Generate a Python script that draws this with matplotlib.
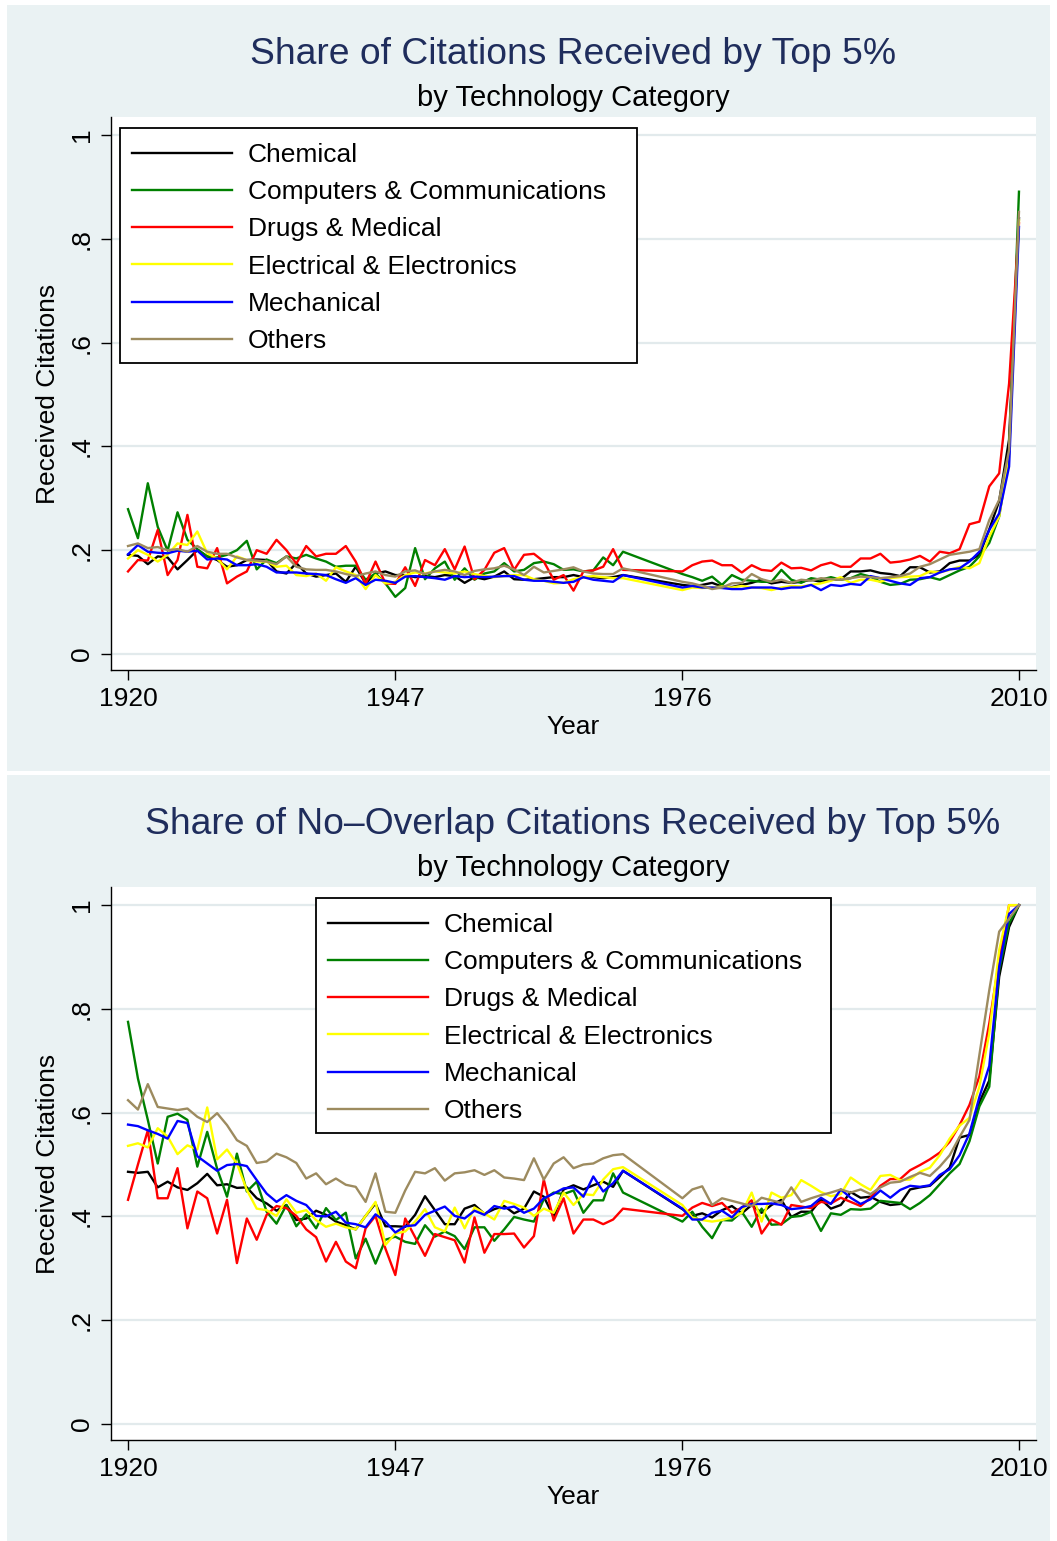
import matplotlib.pyplot as plt
from matplotlib.patches import Rectangle

plt.rcParams['font.family'] = ['Liberation Sans', 'DejaVu Sans']

# years with data (no observations 1971-1975)
years = list(range(1920, 1971)) + list(range(1976, 2011))

categories = ["Chemical", "Computers & Communications", "Drugs & Medical",
              "Electrical & Electronics", "Mechanical", "Others"]
colors = ["black", "#008000", "#ff0000", "#ffff00", "#0000ff", "#9d8b5f"]

# ---- share of citations received by top 5% ----
cit_chemical = [
    0.191, 0.189, 0.173, 0.188, 0.186, 0.163, 0.181, 0.200, 0.188, 0.181, 0.168, 0.171, 0.181, 0.182, 0.181, 0.159,
    0.155, 0.175, 0.155, 0.149, 0.152, 0.155, 0.139, 0.168, 0.136, 0.155, 0.159, 0.152, 0.152, 0.148, 0.150,
    0.148, 0.152, 0.150, 0.137, 0.148, 0.144, 0.149, 0.159, 0.144, 0.143, 0.144, 0.146, 0.148, 0.148, 0.152, 0.148,
    0.148, 0.146, 0.148, 0.152,
    0.133, 0.131,
    0.133, 0.137, 0.130, 0.129, 0.133, 0.137, 0.143, 0.136, 0.139, 0.137, 0.139, 0.143, 0.139, 0.143, 0.144, 0.159,
    0.159, 0.161, 0.156, 0.154, 0.150, 0.167, 0.167, 0.157, 0.159, 0.175, 0.180, 0.180, 0.191,
    0.240, 0.295, 0.413, 0.840]
cit_computers = [
    0.279, 0.223, 0.329, 0.245, 0.199, 0.273, 0.220, 0.202, 0.188, 0.186, 0.191, 0.200, 0.218, 0.163, 0.182, 0.175,
    0.188, 0.184, 0.191, 0.184, 0.178, 0.168, 0.170, 0.170, 0.143, 0.155, 0.136, 0.110, 0.127, 0.204, 0.144,
    0.165, 0.178, 0.143, 0.165, 0.143, 0.155, 0.159, 0.175, 0.159, 0.162, 0.175, 0.178, 0.173, 0.162, 0.163, 0.159,
    0.161, 0.186, 0.171, 0.197,
    0.154, 0.148,
    0.141, 0.149, 0.133, 0.152, 0.143, 0.141, 0.139, 0.139, 0.162, 0.143, 0.137, 0.146, 0.143, 0.148, 0.143, 0.146,
    0.154, 0.149, 0.139, 0.133, 0.135, 0.143, 0.144, 0.148, 0.143, 0.152, 0.161, 0.168, 0.188,
    0.214, 0.265, 0.386, 0.891]
cit_drugs = [
    0.159, 0.181, 0.180, 0.239, 0.152, 0.181, 0.268, 0.168, 0.165, 0.204, 0.136, 0.149, 0.159, 0.200, 0.193, 0.220,
    0.200, 0.174, 0.208, 0.188, 0.193, 0.193, 0.208, 0.178, 0.135, 0.178, 0.136, 0.135, 0.167, 0.131, 0.181,
    0.171, 0.202, 0.163, 0.207, 0.144, 0.162, 0.195, 0.204, 0.162, 0.191, 0.193, 0.178, 0.143, 0.152, 0.122, 0.159,
    0.161, 0.168, 0.202, 0.162,
    0.159, 0.171,
    0.178, 0.180, 0.171, 0.171, 0.157, 0.171, 0.162, 0.160, 0.176, 0.165, 0.166, 0.161, 0.171, 0.176, 0.168, 0.168,
    0.184, 0.184, 0.193, 0.176, 0.178, 0.182, 0.189, 0.178, 0.197, 0.194, 0.202, 0.250, 0.255,
    0.323, 0.348, 0.521, 0.830]
cit_electrical = [
    0.184, 0.200, 0.191, 0.178, 0.191, 0.213, 0.210, 0.236, 0.194, 0.184, 0.163, 0.188, 0.181, 0.178, 0.178, 0.168,
    0.170, 0.152, 0.150, 0.155, 0.141, 0.167, 0.159, 0.152, 0.125, 0.152, 0.136, 0.139, 0.152, 0.157, 0.155,
    0.159, 0.157, 0.155, 0.159, 0.154, 0.150, 0.148, 0.150, 0.152, 0.152, 0.144, 0.141, 0.136, 0.137, 0.144, 0.148,
    0.150, 0.148, 0.146, 0.146,
    0.123, 0.128,
    0.127, 0.128, 0.130, 0.128, 0.131, 0.128, 0.127, 0.123, 0.128, 0.131, 0.130, 0.133, 0.136, 0.141, 0.148, 0.137,
    0.143, 0.143, 0.139, 0.146, 0.148, 0.149, 0.150, 0.159, 0.157, 0.162, 0.168, 0.165, 0.175,
    0.226, 0.265, 0.380, 0.836]
cit_mechanical = [
    0.192, 0.210, 0.197, 0.195, 0.194, 0.199, 0.197, 0.199, 0.182, 0.184, 0.182, 0.171, 0.171, 0.173, 0.168, 0.157,
    0.157, 0.157, 0.155, 0.154, 0.152, 0.144, 0.137, 0.146, 0.133, 0.143, 0.141, 0.137, 0.149, 0.150, 0.148,
    0.146, 0.143, 0.150, 0.148, 0.149, 0.148, 0.149, 0.150, 0.150, 0.143, 0.141, 0.141, 0.139, 0.137, 0.139, 0.148,
    0.143, 0.141, 0.139, 0.152,
    0.128, 0.131,
    0.128, 0.128, 0.127, 0.125, 0.125, 0.128, 0.128, 0.128, 0.125, 0.128, 0.128, 0.133, 0.123, 0.133, 0.131, 0.135,
    0.133, 0.150, 0.146, 0.141, 0.136, 0.133, 0.146, 0.148, 0.157, 0.163, 0.165, 0.178, 0.197,
    0.239, 0.271, 0.361, 0.823]
cit_others = [
    0.208, 0.213, 0.204, 0.206, 0.200, 0.202, 0.197, 0.208, 0.197, 0.193, 0.193, 0.186, 0.181, 0.180, 0.178, 0.173,
    0.188, 0.168, 0.163, 0.162, 0.162, 0.159, 0.154, 0.150, 0.155, 0.159, 0.152, 0.149, 0.159, 0.161, 0.154,
    0.159, 0.162, 0.159, 0.152, 0.160, 0.163, 0.165, 0.170, 0.163, 0.152, 0.168, 0.157, 0.160, 0.163, 0.167, 0.159,
    0.155, 0.154, 0.154, 0.165,
    0.139, 0.136,
    0.131, 0.125, 0.128, 0.136, 0.137, 0.154, 0.144, 0.139, 0.143, 0.137, 0.143, 0.141, 0.146, 0.144, 0.143, 0.146,
    0.149, 0.148, 0.146, 0.148, 0.150, 0.155, 0.168, 0.173, 0.182, 0.191, 0.194, 0.197, 0.202,
    0.258, 0.297, 0.393, 0.852]

# ---- share of no-overlap citations received by top 5% ----
nov_chemical = [
    0.486, 0.484, 0.486, 0.456, 0.467, 0.456, 0.451, 0.464, 0.482, 0.460, 0.462, 0.455, 0.456, 0.435, 0.425, 0.411,
    0.422, 0.393, 0.396, 0.411, 0.403, 0.390, 0.383, 0.375, 0.401, 0.425, 0.381, 0.381, 0.380, 0.403, 0.439,
    0.412, 0.385, 0.385, 0.415, 0.422, 0.405, 0.414, 0.420, 0.406, 0.415, 0.448, 0.438, 0.399, 0.452, 0.460, 0.452,
    0.460, 0.467, 0.457, 0.488,
    0.414, 0.401,
    0.406, 0.398, 0.412, 0.420, 0.406, 0.422, 0.407, 0.422, 0.432, 0.399, 0.409, 0.409, 0.433, 0.415, 0.422, 0.447,
    0.436, 0.438, 0.428, 0.422, 0.424, 0.452, 0.456, 0.459, 0.476, 0.494, 0.552,
    0.557, 0.620, 0.662, 0.862, 0.958, 1.000]
nov_computers = [
    0.775, 0.666, 0.586, 0.502, 0.592, 0.598, 0.586, 0.496, 0.563, 0.492, 0.438, 0.521, 0.448, 0.467, 0.409, 0.386,
    0.422, 0.381, 0.404, 0.377, 0.416, 0.393, 0.407, 0.319, 0.357, 0.309, 0.355, 0.361, 0.351, 0.347, 0.383,
    0.361, 0.371, 0.362, 0.337, 0.379, 0.379, 0.353, 0.375, 0.399, 0.394, 0.390, 0.433, 0.446, 0.443, 0.450, 0.407,
    0.431, 0.431, 0.483, 0.446,
    0.390, 0.409,
    0.380, 0.358, 0.393, 0.392, 0.409, 0.380, 0.415, 0.384, 0.385, 0.399, 0.401, 0.409, 0.372, 0.406, 0.403, 0.414,
    0.413, 0.415, 0.430, 0.428, 0.426, 0.414, 0.426, 0.441, 0.462, 0.483, 0.501,
    0.545, 0.612, 0.650, 0.875, 0.965, 1.000]
nov_drugs = [
    0.432, 0.500, 0.566, 0.435, 0.435, 0.493, 0.377, 0.448, 0.435, 0.367, 0.432, 0.310, 0.396, 0.355, 0.403, 0.420,
    0.416, 0.401, 0.375, 0.360, 0.313, 0.351, 0.313, 0.300, 0.377, 0.401, 0.338, 0.287, 0.396, 0.360, 0.324,
    0.366, 0.360, 0.354, 0.311, 0.398, 0.330, 0.366, 0.366, 0.367, 0.340, 0.362, 0.471, 0.392, 0.435, 0.367, 0.394,
    0.394, 0.385, 0.394, 0.415,
    0.401, 0.417,
    0.426, 0.420, 0.426, 0.407, 0.417, 0.431, 0.367, 0.394, 0.384, 0.422, 0.419, 0.416, 0.428, 0.425, 0.436, 0.428,
    0.420, 0.436, 0.459, 0.472, 0.472, 0.489, 0.499, 0.510, 0.523, 0.544, 0.576,
    0.615, 0.670, 0.772, 0.894, 1.000, 1.000]
nov_electrical = [
    0.536, 0.541, 0.533, 0.570, 0.554, 0.520, 0.537, 0.529, 0.610, 0.510, 0.529, 0.502, 0.451, 0.415, 0.412, 0.401,
    0.433, 0.407, 0.412, 0.393, 0.380, 0.386, 0.379, 0.375, 0.401, 0.428, 0.345, 0.367, 0.371, 0.390, 0.414,
    0.379, 0.371, 0.417, 0.377, 0.417, 0.406, 0.394, 0.430, 0.424, 0.417, 0.401, 0.415, 0.407, 0.446, 0.422, 0.443,
    0.441, 0.471, 0.491, 0.495,
    0.422, 0.398,
    0.393, 0.390, 0.393, 0.398, 0.407, 0.446, 0.390, 0.446, 0.436, 0.441, 0.470, 0.459, 0.447, 0.439, 0.443, 0.475,
    0.462, 0.451, 0.478, 0.480, 0.470, 0.471, 0.486, 0.494, 0.518, 0.550, 0.575,
    0.590, 0.650, 0.753, 0.913, 1.000, 1.000]
nov_mechanical = [
    0.577, 0.574, 0.566, 0.559, 0.550, 0.584, 0.580, 0.516, 0.502, 0.488, 0.499, 0.501, 0.497, 0.470, 0.444, 0.428,
    0.441, 0.430, 0.422, 0.401, 0.400, 0.409, 0.388, 0.385, 0.379, 0.404, 0.390, 0.369, 0.381, 0.383, 0.403,
    0.411, 0.419, 0.401, 0.396, 0.411, 0.403, 0.420, 0.415, 0.419, 0.407, 0.415, 0.435, 0.444, 0.454, 0.456, 0.438,
    0.477, 0.448, 0.464, 0.488,
    0.415, 0.394,
    0.394, 0.407, 0.411, 0.398, 0.418, 0.424, 0.424, 0.425, 0.422, 0.414, 0.416, 0.420, 0.436, 0.424, 0.452, 0.436,
    0.424, 0.433, 0.450, 0.436, 0.451, 0.459, 0.457, 0.460, 0.480, 0.491, 0.518,
    0.560, 0.630, 0.690, 0.881, 0.983, 1.000]
nov_others = [
    0.624, 0.606, 0.655, 0.611, 0.608, 0.605, 0.608, 0.592, 0.582, 0.599, 0.576, 0.547, 0.536, 0.503, 0.506, 0.521,
    0.514, 0.503, 0.473, 0.483, 0.462, 0.473, 0.461, 0.457, 0.428, 0.483, 0.409, 0.407, 0.450, 0.486, 0.483,
    0.493, 0.469, 0.483, 0.485, 0.489, 0.480, 0.489, 0.475, 0.473, 0.470, 0.512, 0.471, 0.502, 0.514, 0.493, 0.500,
    0.502, 0.512, 0.518, 0.520,
    0.435, 0.452,
    0.458, 0.422, 0.435, 0.430, 0.425, 0.420, 0.436, 0.431, 0.426, 0.456, 0.428, 0.435, 0.441, 0.446, 0.452, 0.446,
    0.452, 0.443, 0.456, 0.465, 0.467, 0.476, 0.484, 0.478, 0.496, 0.518, 0.553,
    0.586, 0.711, 0.836, 0.949, 0.974, 1.000]

xticks = [1920, 1947, 1976, 2010]
yticks = [0, 0.2, 0.4, 0.6, 0.8, 1.0]
ytick_labels = ["0", ".2", ".4", ".6", ".8", "1"]

W, H = 1057, 1541
fig = plt.figure(figsize=(W / 100, H / 100), dpi=100, facecolor="white")


def fx(px):
    return px / W


def fy(py):
    return 1 - py / H


panel_bg = "#eaf2f3"
grid_col = "#e2eaec"
title_col = "#1f2d5c"

panels = [
    ("Share of Citations Received by Top 5%",
     [cit_chemical, cit_computers, cit_drugs, cit_electrical, cit_mechanical, cit_others],
     0, (120, 637)),
    ("Share of No\u2013Overlap Citations Received by Top 5%",
     [nov_chemical, nov_computers, nov_drugs, nov_electrical, nov_mechanical, nov_others],
     770, (316, 831)),
]

for title, series, off, (lx0, lx1) in panels:
    # panel background, kept behind the axes
    fig.patches.append(Rectangle((fx(7), fy(771 + off)), fx(1050) - fx(7), 766 / H,
                                 transform=fig.transFigure, facecolor=panel_bg,
                                 edgecolor="none", zorder=-10))
    ax = fig.add_axes([fx(111), fy(670 + off), fx(1036) - fx(111), 553 / H])
    ax.set_facecolor("white")

    for vals, name, col in zip(series, categories, colors):
        ax.plot(years, vals, color=col, lw=1.7, label=name, zorder=2)

    ax.set_xlim(1918.28, 2011.72)
    ax.set_ylim(-0.031, 1.035)
    ax.set_xticks(xticks)
    ax.set_yticks(yticks)
    ax.set_yticklabels(ytick_labels, rotation=90, va="center")
    ax.yaxis.grid(True, color=grid_col, lw=1.6)
    ax.set_axisbelow(True)
    for s in ["top", "right"]:
        ax.spines[s].set_visible(False)
    for s in ["left", "bottom"]:
        ax.spines[s].set_linewidth(1.0)
    ax.tick_params(axis="both", labelsize=19, direction="out", length=7, width=1)
    ax.tick_params(axis="y", pad=5.5)
    ax.tick_params(axis="x", pad=5)

    ax.set_xlabel("Year", fontsize=19)
    ax.xaxis.label.set_va("center")
    ax.xaxis.set_label_coords(0.5, (670 - 727) / 553)
    ax.set_ylabel("Received Citations", fontsize=19)
    ax.yaxis.label.set_va("center")
    ax.yaxis.set_label_coords((48 - 111) / 925, 0.5)

    # legend frame drawn separately so its size can be set freely
    ax.add_patch(Rectangle((fx(lx0), fy(363 + off)), fx(lx1) - fx(lx0), 235 / H,
                           transform=fig.transFigure, facecolor="white",
                           edgecolor="black", lw=1.3, zorder=4, clip_on=False))
    ax.legend(loc="upper left", bbox_to_anchor=(fx(lx0 + 12), fy(143 + off)),
              bbox_transform=fig.transFigure, frameon=False, borderpad=0,
              borderaxespad=0, handlelength=3.79, handletextpad=0.61,
              labelspacing=0.5, fontsize=19)

    fig.text(fx(573), fy(55 + off), title, ha="center", va="center",
             fontsize=26.8, color=title_col)
    fig.text(fx(573), fy(98 + off), "by Technology Category", ha="center",
             va="center", fontsize=21, color="black")

fig.savefig("out.png", dpi=100, facecolor="white")
